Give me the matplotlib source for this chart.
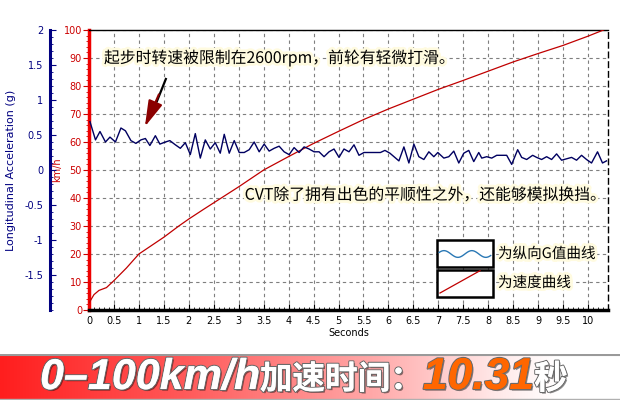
import numpy as np
import matplotlib
matplotlib.use('Agg')
import matplotlib.pyplot as plt
import matplotlib.patheffects as pe
from matplotlib.patches import Rectangle
from matplotlib.lines import Line2D
from matplotlib.ticker import MultipleLocator
from matplotlib.colors import LinearSegmentedColormap

# ---------------- data ----------------
t_g = [0.02, 0.13, 0.22, 0.33, 0.42, 0.53, 0.64, 0.73, 0.84, 0.94, 1.04, 1.13, 1.22, 1.33, 1.42,
       1.53, 1.62, 1.73, 1.83, 1.93, 2.03, 2.13, 2.23, 2.33, 2.43, 2.53, 2.63,
       2.71, 2.81, 2.91, 3.01, 3.11, 3.21, 3.31, 3.41, 3.51, 3.61, 3.71, 3.81, 3.91, 4.01, 4.11,
       4.21, 4.31, 4.41, 4.51, 4.61, 4.71, 4.81, 4.91, 5.01, 5.11,
       5.21, 5.31, 5.41, 5.51, 5.67, 5.84, 5.93, 6.03, 6.21, 6.31, 6.41, 6.51, 6.61, 6.71, 6.81,
       6.91, 6.99, 7.11, 7.21, 7.31, 7.41, 7.51, 7.61, 7.71, 7.81,
       7.87, 7.97, 8.07, 8.17, 8.37, 8.47, 8.59, 8.67, 8.77, 8.89, 8.97, 9.07, 9.17, 9.27, 9.37,
       9.47, 9.57, 9.67, 9.77, 9.87, 9.97, 10.07, 10.19, 10.29, 10.37]
g_vals = [0.69, 0.43, 0.55, 0.40, 0.47, 0.40, 0.60, 0.56, 0.42, 0.38, 0.43, 0.45, 0.35, 0.49, 0.37,
          0.40, 0.42, 0.36, 0.31, 0.39, 0.22, 0.52, 0.17, 0.43, 0.30, 0.39, 0.24,
          0.51, 0.24, 0.42, 0.25, 0.25, 0.29, 0.40, 0.26, 0.37, 0.27, 0.31, 0.34, 0.26, 0.22, 0.32,
          0.25, 0.33, 0.30, 0.26, 0.26, 0.19, 0.26, 0.30, 0.18, 0.30,
          0.26, 0.36, 0.21, 0.25, 0.25, 0.25, 0.28, 0.24, 0.13, 0.33, 0.10, 0.37, 0.19, 0.15, 0.26,
          0.19, 0.25, 0.17, 0.19, 0.27, 0.10, 0.24, 0.28, 0.12, 0.25,
          0.17, 0.19, 0.17, 0.21, 0.21, 0.08, 0.29, 0.18, 0.15, 0.21, 0.18, 0.15, 0.19, 0.15, 0.23,
          0.14, 0.16, 0.18, 0.14, 0.21, 0.15, 0.10, 0.26, 0.10, 0.13]

t_speed = [0, 0.1, 0.2, 0.35, 0.5, 0.75, 1.0, 1.25, 1.5, 1.8, 2.0, 2.3, 2.65, 3.0, 3.5, 4.0,
           4.5, 5.0, 5.5, 6.0, 6.5, 7.0, 7.5, 8.0, 8.5, 9.0, 9.5, 10.0, 10.31]
speed = [2.5, 5.5, 7.0, 8.0, 10.5, 15.0, 20.0, 23.0, 26.0, 30.0, 32.5, 36.0, 40.0, 44.0, 50.0,
         54.8, 59.5, 63.8, 68.0, 71.8, 75.3, 78.8, 82.0, 85.3, 88.6, 91.6, 94.5, 97.8, 100.0]

x_ticks = [0, 0.5, 1, 1.5, 2, 2.5, 3, 3.5, 4, 4.5, 5, 5.5, 6, 6.5, 7, 7.5, 8, 8.5, 9, 9.5, 10]
x_tick_labels = ['0', '0.5', '1', '1.5', '2', '2.5', '3', '3.5', '4', '4.5', '5', '5.5',
                 '6', '6.5', '7', '7.5', '8', '8.5', '9', '9.5', '10']
kmh_ticks = [0, 10, 20, 30, 40, 50, 60, 70, 80, 90, 100]
g_ticks = [-1.5, -1, -0.5, 0, 0.5, 1, 1.5, 2]
g_tick_labels = ['-1.5', '-1', '-0.5', '0', '0.5', '1', '1.5', '2']

note1 = '起步时转速被限制在2600rpm，前轮有轻微打滑。'
note2 = 'CVT除了拥有出色的平顺性之外，还能够模拟换挡。'
legend1 = '为纵向G值曲线'
legend2 = '为速度曲线'
banner_parts = ['0–100km/h', '加速时间：', '10.31', '秒']

# ---------------- style ----------------
CJK = ['Noto Sans CJK SC', 'DejaVu Sans']
RED = '#cc0000'
NAVY = '#000080'
glow = [pe.withStroke(linewidth=4, foreground='#fffbe0')]

fig = plt.figure(figsize=(6.2, 4.0), dpi=100)
fig.patch.set_facecolor('white')

ax = fig.add_axes([89 / 620, 90 / 400, 519 / 620, 280 / 400])
ax.set_xlim(0, 10.4)
ax.set_ylim(0, 100)

ax2 = ax.twinx()
ax2.set_ylim(-2, 2)
ax2.yaxis.tick_left()
ax2.yaxis.set_label_position('left')
ax2.spines['left'].set_position(('outward', 28))
for s in ['right', 'top', 'bottom']:
    ax2.spines[s].set_visible(False)
ax2.spines['left'].set_color(NAVY)
ax2.spines['left'].set_linewidth(2.2)

# grid
ax.set_xticks(x_ticks, x_tick_labels)
ax.set_yticks(kmh_ticks)
ax.grid(True, linestyle=(0, (3, 3)), color='#7f7f7f', linewidth=0.8)
ax.set_axisbelow(True)

# lines
ax.plot(t_speed, speed, color='#c00000', linewidth=0.9, zorder=3)
ax2.plot(t_g, g_vals, color='#000060', linewidth=1.0, zorder=3)

# spines
ax.spines['left'].set_color('#ee0000')
ax.spines['left'].set_linewidth(2.5)
ax.spines['bottom'].set_color('black')
ax.spines['bottom'].set_linewidth(2.5)
ax.spines['top'].set_linewidth(1.0)
ax.spines['right'].set_linestyle((0, (4, 3)))
ax.spines['right'].set_linewidth(1.0)

# ticks
ax.xaxis.set_minor_locator(MultipleLocator(0.1))
ax.yaxis.set_minor_locator(MultipleLocator(2))
ax.tick_params(axis='x', which='major', direction='in', length=4, labelsize=7, pad=4)
ax.tick_params(axis='x', which='minor', direction='in', length=2)
ax.tick_params(axis='y', which='major', direction='out', length=4, color=RED,
               labelcolor=RED, labelsize=7, pad=1)
ax.tick_params(axis='y', which='minor', direction='out', length=2, color=RED)
ax.set_xlabel('Seconds', fontsize=7, labelpad=2)
ax.set_ylabel('km/h', color=RED, fontsize=7, labelpad=1)

ax2.set_yticks(g_ticks, g_tick_labels)
ax2.yaxis.set_minor_locator(MultipleLocator(0.1))
ax2.tick_params(axis='y', which='major', direction='in', length=4, color=NAVY,
                labelcolor=NAVY, labelsize=7, pad=5)
ax2.tick_params(axis='y', which='minor', direction='in', length=2, color=NAVY)
ax2.set_ylabel('Longitudinal Acceleration (g)', color=NAVY, fontsize=8, labelpad=6)

# annotations
ax.text(0.3, 90, note1, fontsize=11.4, family=CJK, va='center', ha='left',
        path_effects=glow, zorder=6)
ax.text(3.12, 41, note2, fontsize=11.4, family=CJK, va='center', ha='left',
        path_effects=glow, zorder=6)
ax.plot([1.54, 1.36], [82.5, 74.5], color='black', linewidth=1.6, zorder=6)
ax.annotate('', xy=(1.12, 65.5), xytext=(1.40, 77),
            arrowprops=dict(arrowstyle='-|>,head_length=1.6,head_width=0.45',
                            color='#8b0000', linewidth=1.5, shrinkA=0, shrinkB=0),
            zorder=6)

# legend boxes (decoration in axes coordinates)
bx0, bx1 = 0.6705, 0.778
for (y0, y1) in [(0.1536, 0.25), (0.0464, 0.1429)]:
    ax.add_patch(Rectangle((bx0, y0), bx1 - bx0, y1 - y0, transform=ax.transAxes,
                           facecolor='white', edgecolor='black', linewidth=1.8, zorder=7))
sx = np.linspace(bx0 + 0.004, bx1 - 0.004, 60)
sy = 0.2 + 0.012 * np.sin((sx - bx0) / (bx1 - bx0) * 2 * np.pi * 2.0)
ax.add_line(Line2D(sx, sy, transform=ax.transAxes, color='#2a78b5', linewidth=1.0, zorder=8))
ax.add_line(Line2D([0.6763, 0.7534], [0.0607, 0.1404], transform=ax.transAxes,
                   color='#c00000', linewidth=0.9, zorder=8))
ax.text(0.788, 0.2, legend1, transform=ax.transAxes, fontsize=10.5, family=CJK,
        va='center', ha='left', path_effects=glow, zorder=8)
ax.text(0.788, 0.0964, legend2, transform=ax.transAxes, fontsize=10.5, family=CJK,
        va='center', ha='left', path_effects=glow, zorder=8)

# ---------------- banner ----------------
bax = fig.add_axes([0, 0, 1, 46 / 400])
cmap = LinearSegmentedColormap.from_list('ban', [(0, '#ff1e1e'), (0.3, '#ff5a5a'),
                                                  (0.6, '#ffa8a8'), (0.8, '#ffe8e8'),
                                                  (0.9, '#ffffff'), (1, '#ffffff')])
grad = np.linspace(0, 1, 256).reshape(1, -1)
bax.imshow(grad, extent=[0, 1, 0, 1], aspect='auto', cmap=cmap)
bax.set_xlim(0, 1)
bax.set_ylim(0, 1)
bax.axhline(0.985, color='#9a9a9a', linewidth=1.5)
bax.axhline(0.02, color='#b0b0b0', linewidth=1.0)
bax.axis('off')

fig.canvas.draw()
r = fig.canvas.get_renderer()
x = 40 / 620
ybase = 11 / 400
shadow = [pe.withSimplePatchShadow(offset=(1.2, -1.2), shadow_rgbFace='#000000', alpha=0.45),
          pe.withStroke(linewidth=1.6, foreground='#6a6a6a'), pe.Normal()]
styles = [
    dict(family='Liberation Sans', style='italic', weight='bold', size=31, color='white'),
    dict(family=CJK, weight='bold', size=23.5, color='white'),
    dict(family='Liberation Sans', style='italic', weight='bold', size=32, color='#ff6600'),
    dict(family=CJK, weight='bold', size=24, color='white'),
]
for s, st in zip(banner_parts, styles):
    tx = fig.text(x, ybase, s, va='baseline', ha='left', path_effects=shadow, **st)
    bb = tx.get_window_extent(r)
    x += bb.width / fig.bbox.width

fig.savefig('out.png', dpi=100)
